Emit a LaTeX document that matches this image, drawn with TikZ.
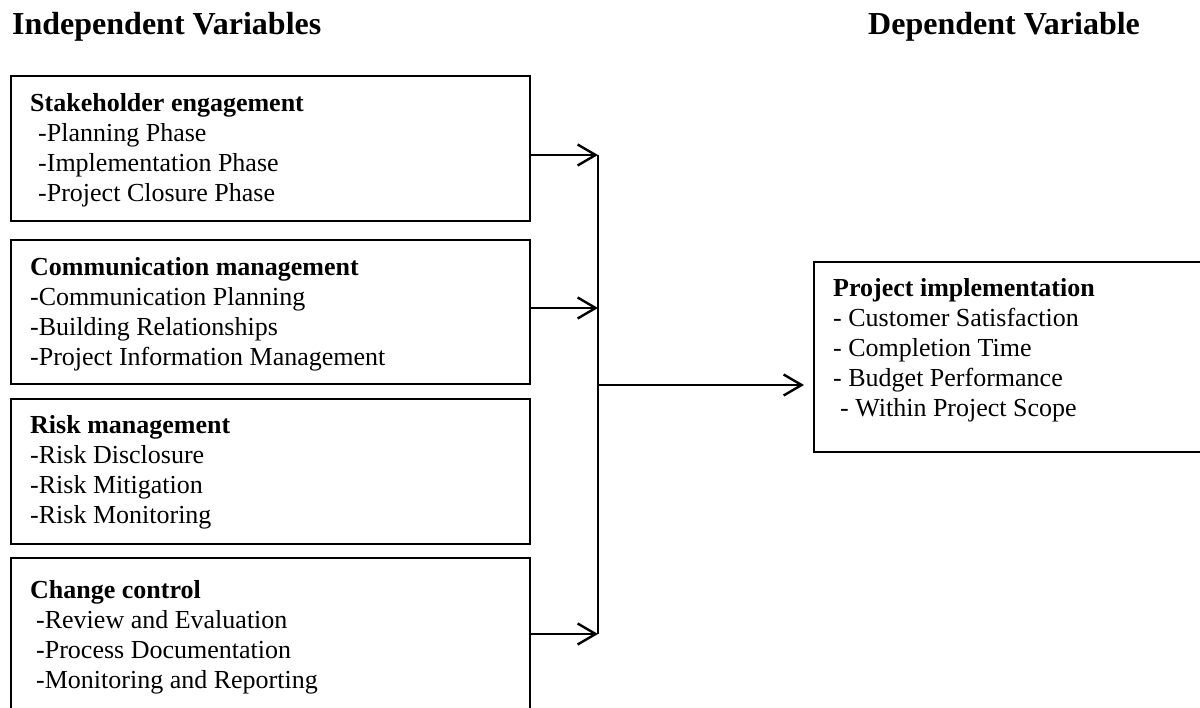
\documentclass[tikz,border=0pt]{standalone}
\usepackage{fontspec}
\setmainfont{Liberation Serif}
\usetikzlibrary{arrows.meta}
\tikzset{
  box/.style={draw, line width=2pt, rectangle, inner sep=0pt, anchor=north west},
  txt/.style={anchor=base west, inner sep=0pt, align=left, font=\fontsize{26}{30}\selectfont},
  head/.style={anchor=base west, inner sep=0pt, font=\fontsize{32}{36}\selectfont\bfseries},
  arr/.style={line width=2.2pt, -{Straight Barb[length=18pt,width=21pt,line width=2.4pt]}},
  ln/.style={line width=2.2pt}
}
\begin{document}
\begin{tikzpicture}[x=1pt,y=-1pt]
\clip (0,0) rectangle (1200,708);
\fill[white] (0,0) rectangle (1200,708);
% headings
\node[head] (hi) at (12,35) {Independent Variables};
\node[head] (hd) at (868,35) {Dependent Variable};
% boxes
\node[box, minimum width=519pt, minimum height=145pt] (B1) at (10,75) {};
\node[box, minimum width=519pt, minimum height=144pt] (B2) at (10,239) {};
\node[box, minimum width=519pt, minimum height=145pt] (B3) at (10,398) {};
\node[box, minimum width=519pt, minimum height=200pt] (B4) at (10,557) {};
\node[box, minimum width=420pt, minimum height=190pt] (R) at (813,261) {};
% texts (anchored at the baseline of their last line)
\node[txt] (t1) at (30,202) {\textbf{Stakeholder engagement}\\\hspace*{8pt}-Planning Phase\\\hspace*{8pt}-Implementation Phase\\\hspace*{8pt}-Project Closure Phase};
\node[txt] (t2) at (30,366) {\textbf{Communication management}\\-Communication Planning\\-Building Relationships\\-Project Information Management};
\node[txt] (t3) at (30,523) {\textbf{Risk management}\\-Risk Disclosure\\-Risk Mitigation\\-Risk Monitoring};
\node[txt] (t4) at (30,688) {\textbf{Change control}\\\hspace*{6pt}-Review and Evaluation\\\hspace*{6pt}-Process Documentation\\\hspace*{6pt}-Monitoring and Reporting};
\node[txt] (tr) at (833,417) {\textbf{Project implementation}\\- Customer Satisfaction\\- Completion Time\\- Budget Performance\\\hspace*{7pt}- Within Project Scope};
% connectors
\coordinate (J1) at (598,155);
\coordinate (J2) at (598,308);
\coordinate (J4) at (598,634);
\coordinate (JM) at (598,385);
\draw[arr] (B1.east |- J1) -- (J1);
\draw[arr] (B2.east |- J2) -- (J2);
\draw[arr] (B4.east |- J4) -- (J4);
\draw[ln] (J1) -- (J4);
\draw[arr, shorten >=9pt] (JM) -- (R.west |- JM);
\end{tikzpicture}
\end{document}
